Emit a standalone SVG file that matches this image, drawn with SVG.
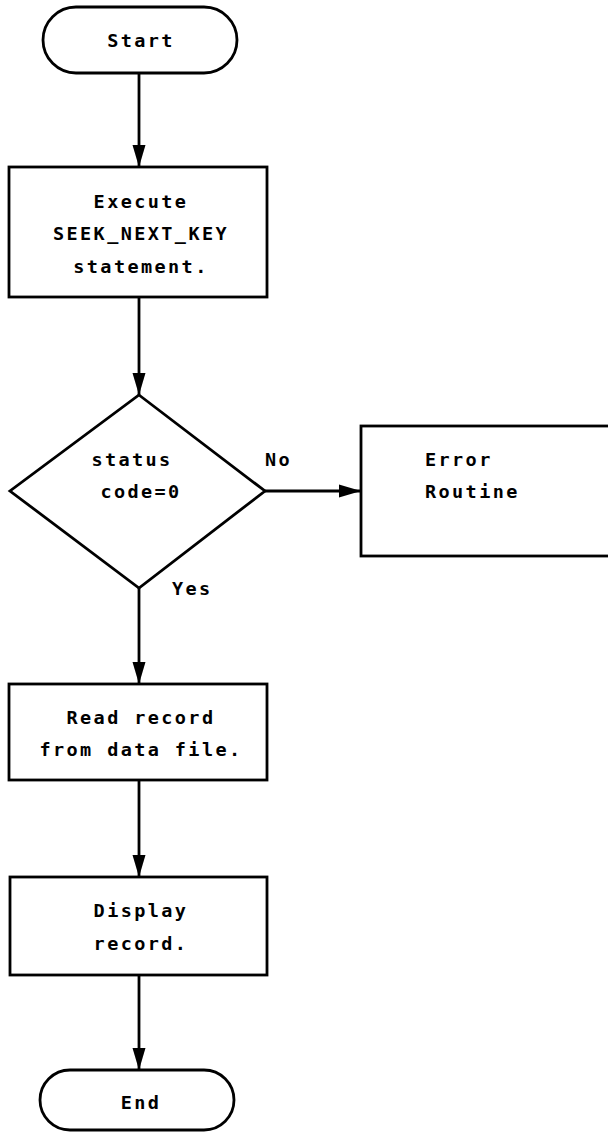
<svg xmlns="http://www.w3.org/2000/svg" width="608" height="1133" viewBox="0 0 608 1133">
<style>
.shape{fill:#fff;stroke:#000;stroke-width:2.8}
.conn{fill:none;stroke:#000;stroke-width:2.8}
text{font-family:"DejaVu Sans Mono","Liberation Mono",monospace;font-weight:bold;font-size:18.5px;letter-spacing:2.4px;fill:#000}
.c{text-anchor:middle}
</style>
<defs>
<marker id="arr" markerUnits="userSpaceOnUse" markerWidth="24" markerHeight="16" refX="22" refY="8" orient="auto">
<path d="M0,1.5 L22,8 L0,14.5 Z" fill="#000"/>
</marker>
</defs>
<rect width="608" height="1133" fill="#fff"/>
<g id="connectors">
<line class="conn" x1="139" y1="73" x2="139" y2="167" marker-end="url(#arr)"/>
<line class="conn" x1="139" y1="297" x2="139" y2="395" marker-end="url(#arr)"/>
<line class="conn" x1="265" y1="491" x2="361" y2="491" marker-end="url(#arr)"/>
<line class="conn" x1="139" y1="588" x2="139" y2="684" marker-end="url(#arr)"/>
<line class="conn" x1="139" y1="780" x2="139" y2="877" marker-end="url(#arr)"/>
<line class="conn" x1="139" y1="975" x2="139" y2="1070" marker-end="url(#arr)"/>
<text x="265" y="466">No</text>
<text x="172" y="595">Yes</text>
</g>
<g id="start">
<rect class="shape" x="43" y="7" width="194" height="66" rx="33"/>
<text class="c" x="141" y="47">Start</text>
</g>
<g id="execute">
<rect class="shape" x="9" y="167" width="258" height="130"/>
<text class="c" x="141" y="208">Execute</text>
<text class="c" x="141" y="240">SEEK_NEXT_KEY</text>
<text class="c" x="141" y="273">statement.</text>
</g>
<g id="decision">
<polygon class="shape" points="139,395 265,491 139,588 10,491"/>
<text class="c" x="132" y="466">status</text>
<text class="c" x="141" y="498">code=0</text>
</g>
<g id="error">
<rect class="shape" x="361" y="426" width="260" height="130"/>
<text x="425" y="466">Error</text>
<text x="425" y="498">Routine</text>
</g>
<g id="read">
<rect class="shape" x="9" y="684" width="258" height="96"/>
<text class="c" x="141" y="724">Read record</text>
<text class="c" x="141" y="756">from data file.</text>
</g>
<g id="display">
<rect class="shape" x="10" y="877" width="257" height="98"/>
<text class="c" x="141" y="917">Display</text>
<text class="c" x="141" y="950">record.</text>
</g>
<g id="end">
<rect class="shape" x="40" y="1070" width="194" height="60" rx="30"/>
<text class="c" x="141" y="1109">End</text>
</g>
</svg>
